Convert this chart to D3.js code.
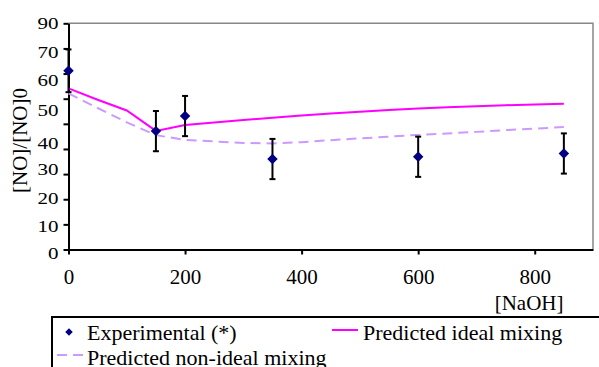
<!DOCTYPE html>
<html>
<head>
<meta charset="utf-8">
<script src="https://cdn.jsdelivr.net/npm/d3@7"></script>
<style>
  body { margin: 0; background: #fff; }
  svg { display: block; font-family: "Liberation Serif", "Times New Roman", serif; }
</style>
</head>
<body>
<svg id="chart" width="599" height="367"></svg>
<script>

// experimental points, [NaOH] vs [NO]/[NO]0
var naoh = [0, 150, 200, 350, 600, 850];
var noRatio = [71.1, 47.1, 53.1, 36.0, 36.9, 38.2];
var noErr = [8.5, 8, 8, 8, 8, 8];

// model curves
var predX = [0, 50, 100, 150, 200, 250, 300, 350, 400, 450, 500, 550, 600, 650, 700, 750, 800, 850];
var idealY = [64.1, 59.6, 55.3, 47.2, 49.5, 50.5, 51.5, 52.4, 53.3, 54.1, 54.8, 55.5, 56.1, 56.6, 57.0, 57.4, 57.7, 58.0];
var nonIdealY = [62.1, 56.3, 50.6, 45.5, 43.6, 43.0, 42.4, 42.2, 42.7, 43.5, 44.2, 44.9, 45.6, 46.2, 46.8, 47.5, 48.1, 48.7];

var xTicks = [0, 200, 400, 600, 800];
var yTicks = [0, 10, 20, 30, 40, 50, 60, 70, 80, 90];
var yLabels = [0, 10, 20, 30, 40, 50, 60, 70, 90];

var seriesNames = ['Experimental (*)', 'Predicted ideal mixing', 'Predicted non-ideal mixing'];

var plotL = 68.5, plotR = 593, plotT = 23.3, plotB = 249.5;

var svg = d3.select('#chart');

var x = d3.scaleLinear().domain([0, 900]).range([plotL, plotR]);
var y = d3.scaleLinear().domain([0, 90]).range([plotB, plotT]);

// the reference prints the y labels squeezed, so they get their own scale
var yLab = d3.scaleLinear()
    .domain(yLabels)
    .range([253.3, 226.2, 198.3, 169.7, 143.7, 110.5, 80.5, 52, 23.7]);

// grey frame top + right
svg.append('path')
    .attr('d', 'M' + plotL + ',' + plotT + 'H' + plotR + 'V' + plotB)
    .attr('fill', 'none')
    .attr('stroke', '#888')
    .attr('stroke-width', 1.5);

// x axis
var gx = svg.append('g')
    .attr('transform', 'translate(0,' + plotB + ')')
    .call(d3.axisBottom(x).tickValues(xTicks).tickSize(5).tickPadding(15).tickSizeOuter(0));
gx.attr('font-family', null).attr('font-size', 21);
gx.select('.domain').attr('stroke', '#000').attr('stroke-width', 2);
gx.selectAll('.tick line').attr('stroke', '#000').attr('stroke-width', 2);
gx.selectAll('.tick text').attr('fill', '#000');

// y axis ticks
var gy = svg.append('g')
    .attr('transform', 'translate(' + plotL + ',0)')
    .call(d3.axisLeft(y).tickValues(yTicks).tickSize(5).tickFormat('').tickSizeOuter(0));
gy.select('.domain').attr('stroke', '#000').attr('stroke-width', 2);
gy.selectAll('.tick line').attr('stroke', '#000').attr('stroke-width', 2);

// y labels
var gyl = svg.append('g')
    .attr('transform', 'translate(' + plotL + ',0)')
    .call(d3.axisLeft(yLab).tickValues(yLabels).tickSize(0).tickPadding(10));
gyl.attr('font-family', null).attr('font-size', 21);
gyl.select('.domain').remove();
gyl.selectAll('.tick text')
    .attr('fill', '#000')
    .attr('transform', 'scale(1,0.78)');

// axis titles
svg.append('text')
    .attr('transform', 'translate(27,140.5) rotate(-90)')
    .attr('text-anchor', 'middle')
    .attr('font-size', 21)
    .text('[NO]/[NO]0');

svg.append('text')
    .attr('x', 563.5)
    .attr('y', 310)
    .attr('text-anchor', 'end')
    .attr('font-size', 21)
    .text('[NaOH]');

// model lines
var line = d3.line()
    .x(function(d) { return x(d[0]); })
    .y(function(d) { return y(d[1]); });

svg.append('path')
    .datum(d3.zip(predX, nonIdealY))
    .attr('d', line)
    .attr('fill', 'none')
    .attr('stroke', '#cc99ff')
    .attr('stroke-width', 2)
    .attr('stroke-dasharray', '10,6');

svg.append('path')
    .datum(d3.zip(predX, idealY))
    .attr('d', line)
    .attr('fill', 'none')
    .attr('stroke', '#ff00ff')
    .attr('stroke-width', 2);

// error bars
var pts = d3.zip(naoh, noRatio, noErr);
var eb = svg.append('g').selectAll('g')
    .data(pts)
    .enter()
    .append('g');
eb.append('line')
    .attr('x1', function(d) { return x(d[0]); })
    .attr('x2', function(d) { return x(d[0]); })
    .attr('y1', function(d) { return y(d[1] - d[2]); })
    .attr('y2', function(d) { return y(d[1] + d[2]); })
    .attr('stroke', '#000')
    .attr('stroke-width', 2);
[-1, 1].forEach(function(s) {
    eb.append('line')
        .attr('x1', function(d) { return x(d[0]) - 3; })
        .attr('x2', function(d) { return x(d[0]) + 3; })
        .attr('y1', function(d) { return y(d[1] + s * d[2]); })
        .attr('y2', function(d) { return y(d[1] + s * d[2]); })
        .attr('stroke', '#000')
        .attr('stroke-width', 2);
});

// diamonds
var diamond = d3.symbol().type(d3.symbolSquare).size(55);
svg.append('g').selectAll('path')
    .data(pts)
    .enter()
    .append('path')
    .attr('d', diamond)
    .attr('transform', function(d) { return 'translate(' + x(d[0]) + ',' + y(d[1]) + ') rotate(45)'; })
    .attr('fill', '#000080');

// legend
var lg = svg.append('g');
lg.append('rect')
    .attr('x', 52).attr('y', 317)
    .attr('width', 600).attr('height', 70)
    .attr('fill', '#fff')
    .attr('stroke', '#000')
    .attr('stroke-width', 2);

lg.append('path')
    .attr('d', d3.symbol().type(d3.symbolSquare).size(28))
    .attr('transform', 'translate(69,332) rotate(45)')
    .attr('fill', '#000080');
lg.append('text').attr('x', 87).attr('y', 340).attr('font-size', 22).text(seriesNames[0]);

lg.append('line')
    .attr('x1', 332).attr('x2', 358).attr('y1', 330).attr('y2', 330)
    .attr('stroke', '#ff00ff').attr('stroke-width', 2);
lg.append('text').attr('x', 363).attr('y', 340).attr('font-size', 22).text(seriesNames[1]);

lg.append('line')
    .attr('x1', 57).attr('x2', 83).attr('y1', 355).attr('y2', 355)
    .attr('stroke', '#cc99ff').attr('stroke-width', 2)
    .attr('stroke-dasharray', '10,6');
lg.append('text').attr('x', 87).attr('y', 365).attr('font-size', 22).text(seriesNames[2]);

</script>
</body>
</html>
